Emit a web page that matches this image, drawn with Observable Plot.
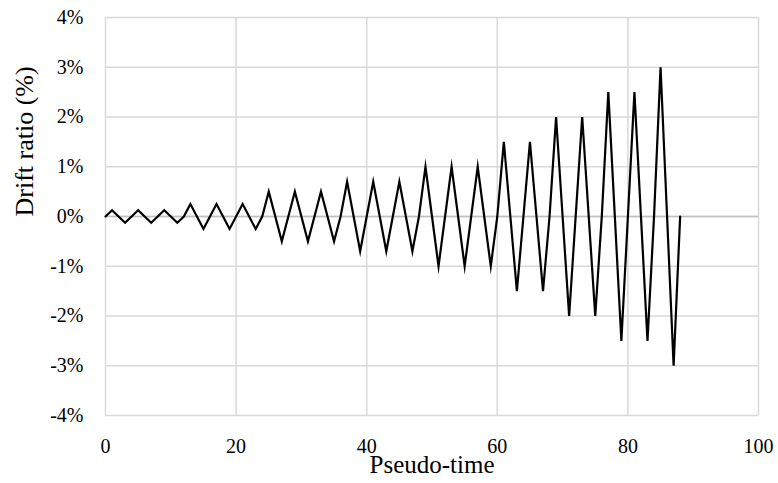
<!DOCTYPE html>
<html>
<head>
<meta charset="utf-8">
<script src="https://cdn.jsdelivr.net/npm/d3@7"></script>
<script src="https://cdn.jsdelivr.net/npm/@observablehq/plot@0.6"></script>
<style>
  html, body { margin: 0; padding: 0; background: #fff; }
  svg text { font-family: 'Liberation Serif', 'Times New Roman', serif !important; }
</style>
</head>
<body>
<div id="chart"></div>
<script>
// Loading protocol: pseudo-time steps and drift ratio (%)
const pseudoTime = [
  0, 1, 2, 3, 4, 5, 6, 7, 8, 9, 10, 11, 12, 13, 14, 15, 16, 17, 18, 19, 20,
  21, 22, 23, 24, 25, 26, 27, 28, 29, 30, 31, 32, 33, 34, 35, 36, 37, 38, 39, 40,
  41, 42, 43, 44, 45, 46, 47, 48, 49, 50, 51, 52, 53, 54, 55, 56, 57, 58, 59, 60,
  61, 62, 63, 64, 65, 66, 67, 68, 69, 70, 71, 72, 73, 74, 75, 76, 77, 78, 79, 80,
  81, 82, 83, 84, 85, 86, 87, 88
];
const driftRatio = [
  0, 0.125, 0, -0.125, 0, 0.125, 0, -0.125, 0, 0.125, 0, -0.125,
  0, 0.25, 0, -0.25, 0, 0.25, 0, -0.25, 0, 0.25, 0, -0.25,
  0, 0.5, 0, -0.5, 0, 0.5, 0, -0.5, 0, 0.5, 0, -0.5,
  0, 0.7, 0, -0.7, 0, 0.7, 0, -0.7, 0, 0.7, 0, -0.7,
  0, 1, 0, -1, 0, 1, 0, -1, 0, 1, 0, -1,
  0, 1.5, 0, -1.5, 0, 1.5, 0, -1.5,
  0, 2, 0, -2, 0, 2, 0, -2,
  0, 2.5, 0, -2.5, 0, 2.5, 0, -2.5,
  0, 3, 0, -3, 0
];
const xTicks = [0, 20, 40, 60, 80, 100];
const yTicks = [-4, -3, -2, -1, 0, 1, 2, 3, 4];
const xTitle = "Pseudo-time";
const yTitle = "Drift ratio (%)";

const data = pseudoTime.map((t, i) => ({t, d: driftRatio[i]}));
const serif = "'Liberation Serif', 'Times New Roman', serif";

const chart = Plot.plot({
  width: 778,
  height: 483,
  marginLeft: 105,
  marginRight: 20,
  marginTop: 17,
  marginBottom: 68,
  style: {fontFamily: serif, background: "#fff", color: "#000"},
  x: {domain: [0, 100]},
  y: {domain: [-4, 4]},
  marks: [
    Plot.gridX(xTicks, {stroke: "#d9d9d9", strokeOpacity: 1, strokeWidth: 1.5}),
    Plot.gridY(yTicks, {stroke: "#d9d9d9", strokeOpacity: 1, strokeWidth: 1.5}),
    Plot.ruleY([0], {stroke: "#bfbfbf", strokeWidth: 1.6}),
    Plot.line(data, {x: "t", y: "d", stroke: "#000", strokeWidth: 2.2, strokeLinejoin: "miter", strokeMiterlimit: 10}),
    Plot.axisX(xTicks, {tickSize: 0, tickPadding: 23, fontSize: 20, fontFamily: serif, label: null, tickFormat: d => String(d)}),
    Plot.axisY(yTicks, {tickSize: 0, tickPadding: 22, fontSize: 20, fontFamily: serif, label: null, tickFormat: d => d + "%"}),
    Plot.text([xTitle], {text: d => d, frameAnchor: "bottom", lineAnchor: "middle", dy: 49, fontSize: 25, fontFamily: serif, fill: "#000"}),
    Plot.text([yTitle], {text: d => d, frameAnchor: "left", lineAnchor: "middle", dx: -81, rotate: -90, fontSize: 26, fontFamily: serif, fill: "#000"})
  ]
});
document.getElementById("chart").appendChild(chart);
</script>
</body>
</html>
